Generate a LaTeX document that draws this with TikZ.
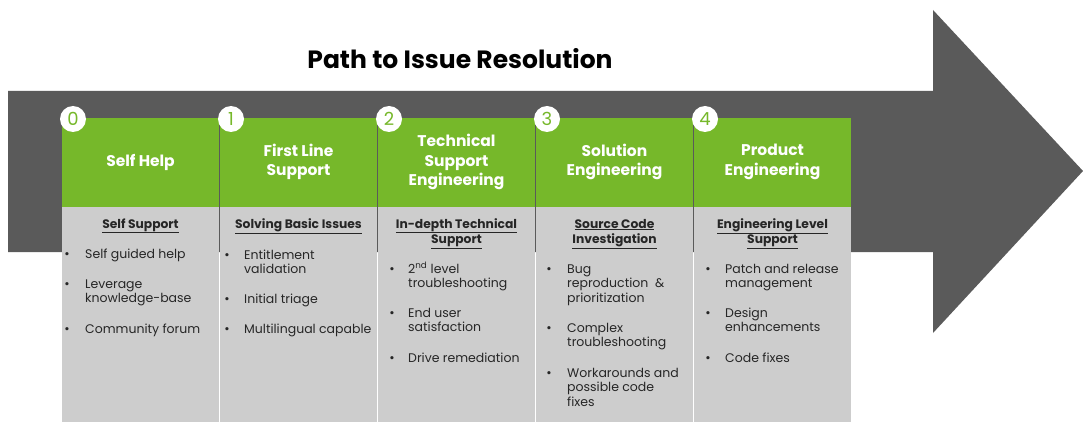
\documentclass[tikz,border=0pt]{standalone}
\usepackage{fontspec}
\setmainfont{Poppins}
\definecolor{nvgreen}{HTML}{76B82A}
\definecolor{arrowgray}{HTML}{5A5A5A}
\definecolor{colgray}{HTML}{CDCDCD}
\definecolor{txtdark}{HTML}{262626}
\newcommand\leftlines[1]{\begin{tabular}[t]{@{}l@{}}#1\end{tabular}}
\newcommand\midlines[1]{\begin{tabular}[t]{@{}c@{}}#1\end{tabular}}
\tikzset{
  headtxt/.style={text=white,font=\bfseries\fontsize{15.5}{19.5}\selectfont,align=center,inner sep=0pt},
  subtxt/.style={text=txtdark,font=\bfseries\fontsize{12.3}{15}\selectfont,inner sep=0pt,anchor=base},
  itemtxt/.style={text=txtdark,font=\fontsize{12.5}{14.6}\selectfont,inner sep=0pt,anchor=base west},
  bul/.style={text=txtdark,font=\fontsize{13}{13}\selectfont,inner sep=0pt,anchor=base},
  numcirc/.style={circle,fill=white,minimum size=26pt,inner sep=0pt,text=nvgreen,font=\fontsize{18}{18}\selectfont},
}
\begin{document}
\begin{tikzpicture}[x=1pt,y=-1pt]
\useasboundingbox (0,0) rectangle (1083,422);
% big arrow
\fill[arrowgray] (8,91) -- (933,91) -- (933,10) -- (1083,171) -- (933,333) -- (933,252) -- (8,252) -- cycle;
% title
\node[font=\bfseries\fontsize{25}{25}\selectfont,text=black,anchor=base] (title) at (460,69) {Path to Issue Resolution};
% columns
\foreach \i/\head in {0/{Self Help},1/{First Line\\Support},2/{Technical\\Support\\Engineering},3/{Solution\\Engineering},4/{Product\\Engineering}}{
  \pgfmathsetmacro{\xa}{62+158*\i}
  \fill[nvgreen] (\xa,118) rectangle ++(157,89);
  \fill[colgray] (\xa,207) rectangle ++(157,215);
  \node[headtxt] (head\i) at (\xa+78.5,162) {\head};
  \node[numcirc] (num\i) at (\xa+11,119) {\i};
}
% sub headers
\node[subtxt] (sub0) at (140.5,228) {\midlines{\underline{Self Support}}};
\node[subtxt] (sub1) at (298.5,228) {\midlines{\underline{Solving Basic Issues}}};
\node[subtxt] (sub2) at (456.5,228) {\midlines{\underline{In-depth Technical}\\\underline{Support}}};
\node[subtxt] (sub3) at (614.5,228) {\midlines{\underline{Source Code}\\\underline{Investigation}}};
\node[subtxt] (sub4) at (772.5,228) {\midlines{\underline{Engineering Level}\\\underline{Support}}};
% items: column 0
\node[bul] (b00) at (67,258) {•};  \node[itemtxt] (t00) at (85,258) {\leftlines{Self guided help}};
\node[bul] (b01) at (67,288) {•};  \node[itemtxt] (t01) at (85,288) {\leftlines{Leverage\\knowledge-base}};
\node[bul] (b02) at (67,333) {•};  \node[itemtxt] (t02) at (85,333) {\leftlines{Community forum}};
% column 1
\node[bul] (b10) at (227,259) {•}; \node[itemtxt] (t10) at (244,259) {\leftlines{Entitlement\\validation}};
\node[bul] (b11) at (227,303) {•}; \node[itemtxt] (t11) at (244,303) {\leftlines{Initial triage}};
\node[bul] (b12) at (227,333) {•}; \node[itemtxt] (t12) at (244,333) {\leftlines{Multilingual capable}};
% column 2
\node[bul] (b20) at (392,273) {•}; \node[itemtxt] (t20) at (408,273) {\leftlines{2\textsuperscript{nd} level\\troubleshooting}};
\node[bul] (b21) at (392,317) {•}; \node[itemtxt] (t21) at (408,317) {\leftlines{End user\\satisfaction}};
\node[bul] (b22) at (392,362) {•}; \node[itemtxt] (t22) at (408,362) {\leftlines{Drive remediation}};
% column 3
\node[bul] (b30) at (549,273) {•}; \node[itemtxt] (t30) at (567,273) {\leftlines{Bug\\reproduction\ \ \&\\prioritization}};
\node[bul] (b31) at (549,332) {•}; \node[itemtxt] (t31) at (567,332) {\leftlines{Complex\\troubleshooting}};
\node[bul] (b32) at (549,377) {•}; \node[itemtxt] (t32) at (567,377) {\leftlines{Workarounds and\\possible code\\fixes}};
% column 4
\node[bul] (b40) at (708,273) {•}; \node[itemtxt] (t40) at (725,273) {\leftlines{Patch and release\\management}};
\node[bul] (b41) at (708,317) {•}; \node[itemtxt] (t41) at (725,317) {\leftlines{Design\\enhancements}};
\node[bul] (b42) at (708,362) {•}; \node[itemtxt] (t42) at (725,362) {\leftlines{Code fixes}};
\end{tikzpicture}
\end{document}
